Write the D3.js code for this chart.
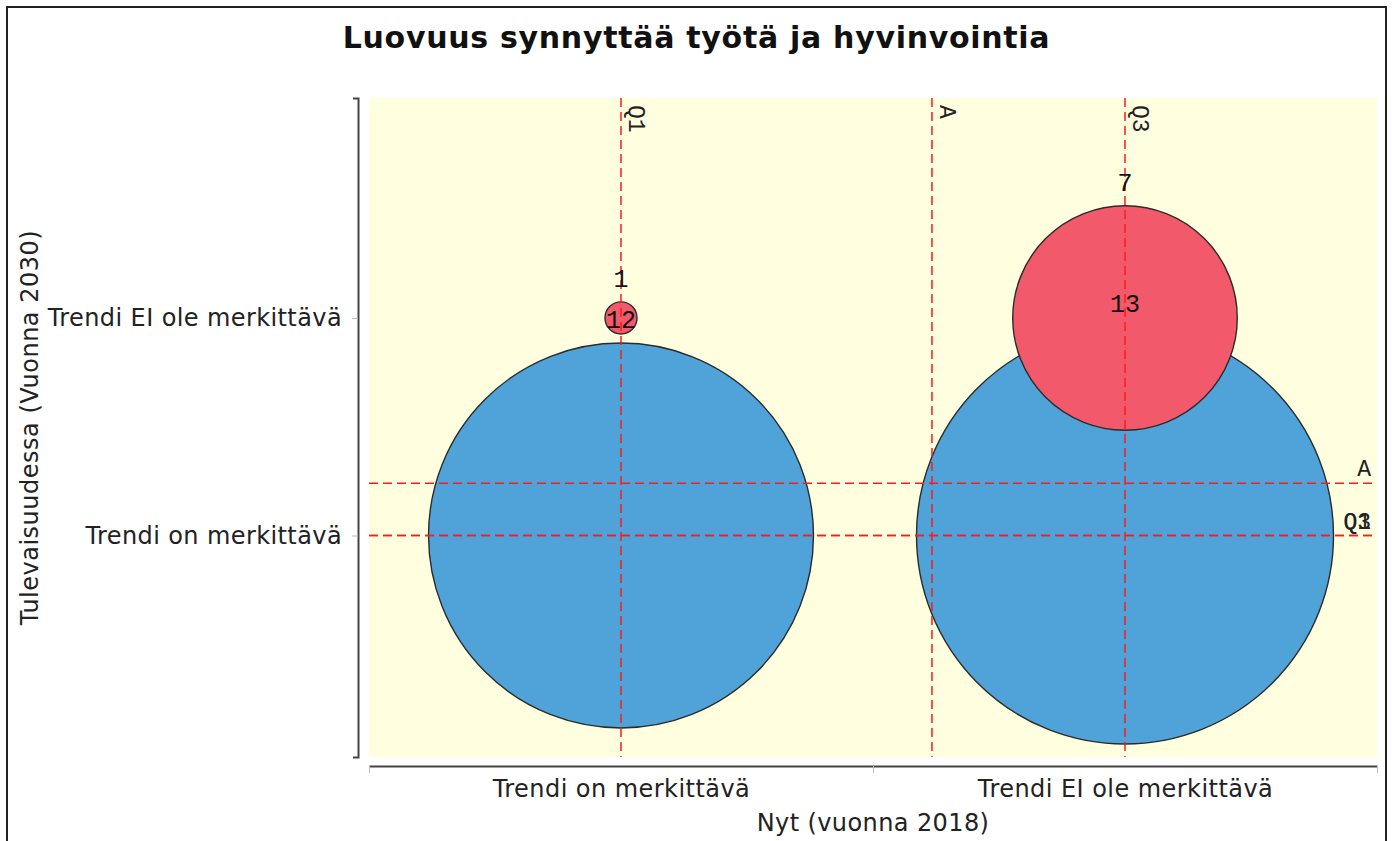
<!DOCTYPE html>
<html>
<head>
<meta charset="utf-8">
<script src="https://cdn.jsdelivr.net/npm/d3@7"></script>
<style>
  body { margin: 0; background: #fff; }
  svg { display: block; }
</style>
</head>
<body>
<div id="chart"></div>
<script>
// categories on both axes
var xCategories = ["Trendi on merkittävä", "Trendi EI ole merkittävä"];
var yCategories = ["Trendi on merkittävä", "Trendi EI ole merkittävä"];

// bubbles: index on x, index on y, number of answers
var bubbleX = [0, 1, 0, 1];
var bubbleY = [0, 0, 1, 1];
var bubbleCount = [12, 13, 1, 7];

// marker lines (quartiles and average)
var xMarkerLabels = ["Q1", "A", "Q3"];
var xMarkerValues = [0, 0.617, 1];
var yMarkerLabels = ["Q1", "Q3", "A"];
var yMarkerValues = [0, 0, 0.24];

var title = "Luovuus synnyttää työtä ja hyvinvointia";
var xTitle = "Nyt (vuonna 2018)";
var yTitle = "Tulevaisuudessa (Vuonna 2030)";

function main() {
    var W = 1394, H = 841;
    var left = 369, right = 1377, top = 98, bottom = 757;

    var svg = d3.select("#chart").append("svg")
        .attr("width", W)
        .attr("height", H);

    // outer frame
    svg.append("rect")
        .attr("x", 7).attr("y", 7)
        .attr("width", 1379).attr("height", 900)
        .attr("fill", "#fff")
        .attr("stroke", "#222")
        .attr("stroke-width", 2);

    svg.append("text")
        .attr("x", 696.5).attr("y", 48)
        .attr("text-anchor", "middle")
        .attr("font-family", "DejaVu Sans")
        .attr("font-weight", "bold")
        .attr("font-size", "30px")
        .attr("letter-spacing", "0.7px")
        .attr("fill", "#111")
        .text(title);

    var xScale = d3.scaleLinear().domain([-0.5, 1.5]).range([left, right]);
    var yScale = d3.scaleLinear().domain([-1.018, 2.011]).range([bottom, top]);
    var rScale = d3.scaleLinear().domain([0, 13]).range([0, 208.5]);
    var color = d3.scaleOrdinal().domain([0, 1]).range(["#4fa3d8", "#f2596b"]);

    // plot background
    svg.append("rect")
        .attr("x", left).attr("y", top)
        .attr("width", right - left).attr("height", bottom - top)
        .attr("fill", "#ffffe0");

    var bubbles = bubbleCount.map(function(c, i) {
        return {x: bubbleX[i], y: bubbleY[i], count: c};
    });

    var plot = svg.append("g");

    plot.selectAll("circle")
        .data(bubbles)
        .enter().append("circle")
        .attr("cx", function(d) { return xScale(d.x); })
        .attr("cy", function(d) { return yScale(d.y); })
        .attr("r", function(d) { return rScale(d.count); })
        .attr("fill", function(d) { return color(d.y); })
        .attr("stroke", "#2b2b2b")
        .attr("stroke-width", 1.4);

    // marker lines
    var dash = "9,5";
    var red = "#ff1a1a";
    xMarkerValues.forEach(function(v, i) {
        plot.append("line")
            .attr("x1", xScale(v)).attr("x2", xScale(v))
            .attr("y1", top).attr("y2", bottom)
            .attr("stroke", red)
            .attr("stroke-width", 1.5)
            .attr("stroke-dasharray", dash);
        plot.append("text")
            .attr("transform", "translate(" + (xScale(v) + 8) + "," + (top + 7) + ") rotate(90)")
            .attr("font-family", "Liberation Mono")
            .attr("font-size", "23px")
            .attr("fill", "#222")
            .text(xMarkerLabels[i]);
    });
    yMarkerValues.forEach(function(v, i) {
        plot.append("line")
            .attr("x1", left).attr("x2", right)
            .attr("y1", yScale(v)).attr("y2", yScale(v))
            .attr("stroke", red)
            .attr("stroke-width", 1.5)
            .attr("stroke-dasharray", dash);
        plot.append("text")
            .attr("x", right - 6)
            .attr("y", yScale(v) - 7)
            .attr("text-anchor", "end")
            .attr("font-family", "Liberation Mono")
            .attr("font-size", "23px")
            .attr("fill", "#222")
            .text(yMarkerLabels[i]);
    });

    // counts above each bubble
    plot.selectAll(".count")
        .data(bubbles)
        .enter().append("text")
        .attr("class", "count")
        .attr("x", function(d) { return xScale(d.x); })
        .attr("y", function(d) { return yScale(d.y) - rScale(d.count) - 15; })
        .attr("text-anchor", "middle")
        .attr("font-family", "Liberation Mono")
        .attr("font-size", "25px")
        .attr("fill", "#111")
        .text(function(d) { return d.count; });

    // x axis: tick marks on the band edges, names in the middle
    var xAxis = svg.append("g")
        .attr("transform", "translate(0," + 766 + ")")
        .call(d3.axisBottom(xScale).tickValues([-0.5, 0.5, 1.5]).tickFormat("").tickSize(7).tickSizeOuter(0));
    xAxis.select(".domain").attr("stroke", "#444").attr("stroke-width", 2);
    xAxis.selectAll(".tick line").attr("stroke", "#bbb");

    var xLabels = svg.append("g")
        .attr("transform", "translate(0," + 766 + ")")
        .call(d3.axisBottom(xScale).tickValues([0, 1]).tickSize(0).tickPadding(14)
            .tickFormat(function(d) { return xCategories[d]; }));
    xLabels.select(".domain").remove();
    xLabels.selectAll("text")
        .attr("font-family", "DejaVu Sans")
        .attr("font-size", "24px")
        .attr("letter-spacing", "0.45px")
        .attr("fill", "#222");

    // y axis
    var yAxis = svg.append("g")
        .attr("transform", "translate(358,0)")
        .call(d3.axisLeft(yScale).tickValues([0, 1]).tickSize(6).tickSizeOuter(5).tickPadding(10)
            .tickFormat(function(d) { return yCategories[d]; }));
    yAxis.select(".domain").attr("stroke", "#444").attr("stroke-width", 2);
    yAxis.selectAll(".tick line").attr("stroke", "#bbb");
    yAxis.selectAll("text")
        .attr("font-family", "DejaVu Sans")
        .attr("font-size", "24px")
        .attr("letter-spacing", "0.4px")
        .attr("fill", "#222");

    svg.append("text")
        .attr("x", (left + right) / 2).attr("y", 831)
        .attr("text-anchor", "middle")
        .attr("font-family", "DejaVu Sans")
        .attr("font-size", "24px")
        .attr("letter-spacing", "0.4px")
        .attr("fill", "#222")
        .text(xTitle);

    svg.append("text")
        .attr("transform", "translate(38," + (top + bottom) / 2 + ") rotate(-90)")
        .attr("text-anchor", "middle")
        .attr("font-family", "DejaVu Sans")
        .attr("font-size", "24px")
        .attr("letter-spacing", "0.5px")
        .attr("fill", "#222")
        .text(yTitle);
}

main();
</script>
</body>
</html>
